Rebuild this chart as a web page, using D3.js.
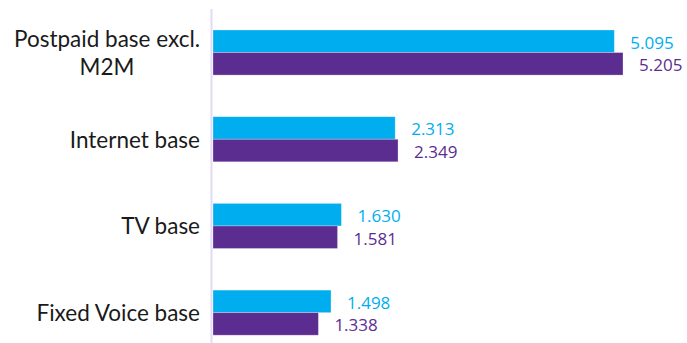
<!DOCTYPE html>
<html>
<head>
<meta charset="utf-8">
<script src="https://cdn.jsdelivr.net/npm/d3@7"></script>
<style>
  html, body { margin: 0; padding: 0; background: #fff; }
  svg { display: block; }
</style>
</head>
<body>
<svg id="chart" width="687" height="343"></svg>
<script>
// Subscriber bases, two periods (thousands)
const categories = [
  ["Postpaid base excl.", "M2M"],
  ["Internet base"],
  ["TV base"],
  ["Fixed Voice base"]
];
const seriesA = [5.095, 2.313, 1.630, 1.498];   // blue
const seriesB = [5.205, 2.349, 1.581, 1.338];   // purple
const valueLabelsA = ["5.095", "2.313", "1.630", "1.498"];
const valueLabelsB = ["5.205", "2.349", "1.581", "1.338"];

const colors = { a: "#00AEEF", b: "#5C2D91", axis: "#E4DAF4", text: "#1a1a1a" };
const font = "Lato, 'Open Sans', sans-serif";
const valueFont = "'Open Sans', Lato, sans-serif";

const svg = d3.select("#chart");
const keys = categories.map((c, i) => "c" + i);

const y = d3.scaleBand()
  .domain(keys)
  .range([9.2, 356])
  .paddingInner(0.48)
  .paddingOuter(0.24);

const ySub = d3.scaleBand()
  .domain(["a", "b"])
  .range([0, y.bandwidth()]);

const x0 = 213;
const x = d3.scaleLinear().domain([0, 5.205]).range([x0, 623]);

// Vertical axis line
svg.append("line")
  .attr("x1", 211.5).attr("x2", 211.5)
  .attr("y1", 9).attr("y2", 343)
  .attr("stroke", colors.axis)
  .attr("stroke-width", 2);

const rows = categories.map((c, i) => ({
  key: keys[i], lines: c,
  vals: [
    { s: "a", v: seriesA[i], label: valueLabelsA[i] },
    { s: "b", v: seriesB[i], label: valueLabelsB[i] }
  ]
}));

const g = svg.selectAll("g.row").data(rows).join("g")
  .attr("class", "row")
  .attr("transform", d => `translate(0,${y(d.key)})`);

g.selectAll("rect").data(d => d.vals).join("rect")
  .attr("x", x(0))
  .attr("y", d => ySub(d.s))
  .attr("width", d => x(d.v) - x(0))
  .attr("height", ySub.bandwidth())
  .attr("fill", d => colors[d.s])
  .attr("stroke", "#ffffff")
  .attr("stroke-opacity", 0.35)
  .attr("stroke-width", 0.8);

g.selectAll("text.val").data(d => d.vals).join("text")
  .attr("class", "val")
  .attr("x", d => x(d.v) + 16)
  .attr("y", d => ySub(d.s) + ySub.bandwidth() / 2 + 1)
  .attr("dominant-baseline", "central")
  .attr("font-family", valueFont)
  .attr("font-size", 17)
  .attr("fill", d => colors[d.s])
  .text(d => d.label);

// Category labels: one text per category, lines as tspans centred on the widest line,
// whose right edge sits at x=200
const lineH = 27.2;
g.each(function(d) {
  const cy = y.bandwidth() / 2;
  const n = d.lines.length;
  const label = d3.select(this).append("text")
    .attr("font-family", font)
    .attr("font-size", 22.5)
    .attr("fill", colors.text)
    .attr("text-anchor", "middle");
  const spans = d.lines.map((t, j) => label.append("tspan")
    .attr("dominant-baseline", "central")
    .attr("y", cy + (j - (n - 1) / 2) * lineH)
    .text(t));
  const w = d3.max(spans, s => s.node().getComputedTextLength());
  spans.forEach(s => s.attr("x", 200 - w / 2));
});
</script>
</body>
</html>
